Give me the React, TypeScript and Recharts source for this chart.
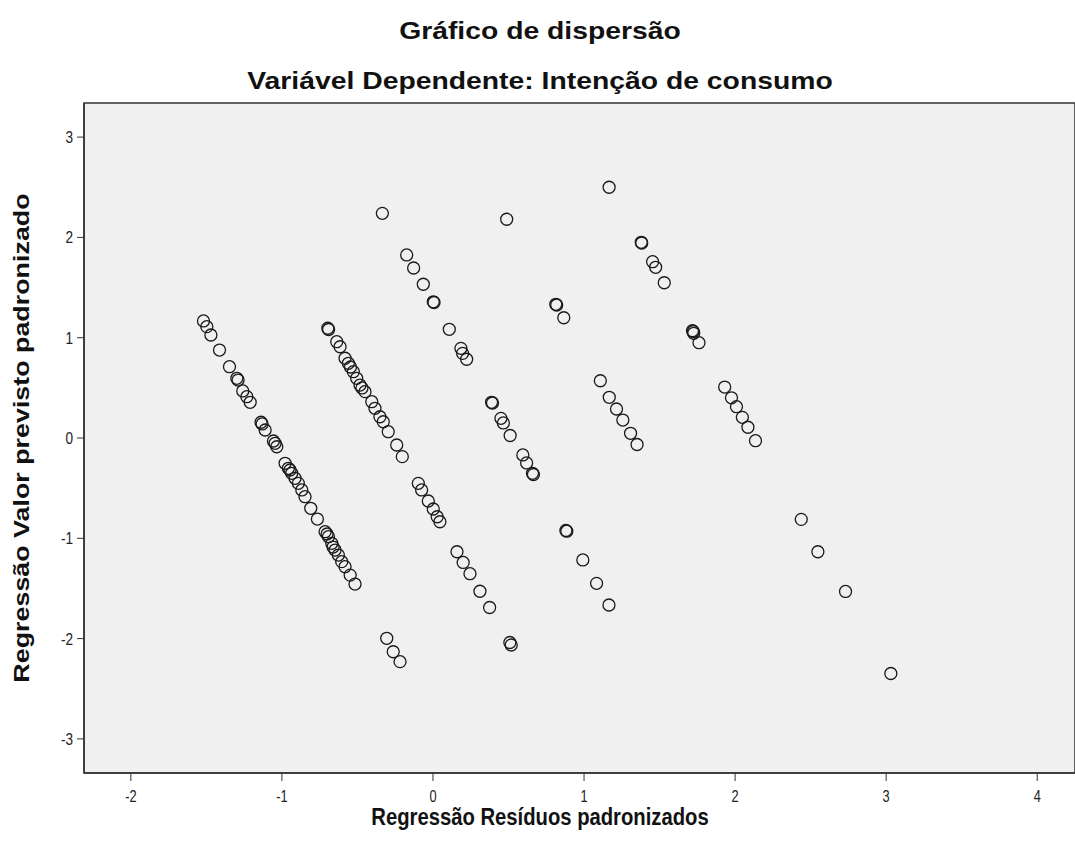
import React from "react";
import {
  ScatterChart,
  Scatter,
  XAxis,
  YAxis,
  CartesianGrid,
  ReferenceArea,
} from "recharts";

// x = standardized residual, y = standardized predicted value
const bandAResid = [
  -1.519, -1.497, -1.47, -1.413, -1.347, -1.298, -1.29, -1.259, -1.232, -1.21,
  -1.138, -1.131, -1.111, -1.056, -1.045, -1.034, -0.979, -0.957, -0.946, -0.935,
  -0.913, -0.891, -0.868, -0.847, -0.809, -0.765, -0.714, -0.701, -0.692, -0.67,
  -0.661, -0.648, -0.626, -0.604, -0.582, -0.548, -0.516, -0.306, -0.263, -0.218,
];
const bandAPred = [
  1.167, 1.11, 1.027, 0.877, 0.711, 0.595, 0.578, 0.469, 0.412, 0.356,
  0.157, 0.14, 0.08, -0.03, -0.053, -0.087, -0.252, -0.302, -0.319, -0.352,
  -0.402, -0.452, -0.518, -0.585, -0.701, -0.808, -0.934, -0.957, -0.984, -1.05,
  -1.087, -1.117, -1.167, -1.233, -1.283, -1.367, -1.456, -1.997, -2.131, -2.23,
];

const bandBResid = [
  -0.696, -0.691, -0.637, -0.615, -0.582, -0.56, -0.546, -0.527, -0.505, -0.483,
  -0.47, -0.45, -0.405, -0.384, -0.351, -0.329, -0.296, -0.24, -0.203,
  -0.097, -0.075, -0.031, 0.002, 0.028, 0.046, 0.159, 0.2, 0.245, 0.311, 0.375,
  0.509, 0.518,
];
const bandBPred = [
  1.094, 1.082, 0.96, 0.91, 0.795, 0.745, 0.708, 0.661, 0.595, 0.528,
  0.499, 0.462, 0.362, 0.296, 0.212, 0.162, 0.063, -0.07, -0.186,
  -0.452, -0.518, -0.628, -0.708, -0.785, -0.835, -1.134, -1.241, -1.353, -1.528, -1.69,
  -2.039, -2.064,
];

const bandCResid = [
  -0.335, -0.174, -0.128, -0.064, 0.002, 0.007, 0.108, 0.185, 0.196, 0.223,
  0.388, 0.394, 0.45, 0.466, 0.511, 0.595, 0.62, 0.659, 0.665,
  0.88, 0.886, 0.992, 1.083, 1.165,
];
const bandCPred = [
  2.24, 1.825, 1.695, 1.533, 1.358, 1.351, 1.084, 0.894, 0.844, 0.785,
  0.356, 0.349, 0.196, 0.15, 0.025, -0.169, -0.249, -0.352, -0.364,
  -0.922, -0.929, -1.216, -1.449, -1.665,
];

const bandDResid = [
  0.488, 0.813, 0.819, 0.866, 1.108, 1.167, 1.215, 1.257, 1.308, 1.351,
];
const bandDPred = [
  2.181, 1.333, 1.326, 1.199, 0.571, 0.406, 0.289, 0.179, 0.047, -0.065,
];

const bandEResid = [
  1.166, 1.379, 1.382, 1.454, 1.474, 1.531, 1.718, 1.723, 1.726, 1.761,
  1.931, 1.976, 2.009, 2.048, 2.085, 2.135, 2.438, 2.548, 2.731, 3.031,
];
const bandEPred = [
  2.5, 1.951, 1.944, 1.758, 1.702, 1.548, 1.07, 1.062, 1.044, 0.95,
  0.508, 0.401, 0.312, 0.206, 0.107, -0.027, -0.811, -1.134, -1.53, -2.348,
];

const xTicks = [-2, -1, 0, 1, 2, 3, 4];
const yTicks = [-3, -2, -1, 0, 1, 2, 3];

const xDomain: [number, number] = [-2.31, 4.25];
const yDomain: [number, number] = [-3.34, 3.34];

const toPoints = (xs: number[], ys: number[]) =>
  xs.map((x, i) => ({ x, y: ys[i] }));

const bands = [
  toPoints(bandAResid, bandAPred),
  toPoints(bandBResid, bandBPred),
  toPoints(bandCResid, bandCPred),
  toPoints(bandDResid, bandDPred),
  toPoints(bandEResid, bandEPred),
];

const font = "'Liberation Sans', Arial, sans-serif";

const OpenCircle = (props: any) => {
  const { cx, cy } = props;
  if (cx == null || cy == null) return null;
  return (
    <circle cx={cx} cy={cy} r={6} fill="none" stroke="#1a1a1a" strokeWidth={1.3} />
  );
};

// narrow-looking tick labels like the SPSS output
const XTick = (props: any) => {
  const { x, y, payload } = props;
  return (
    <text
      transform={`translate(${x},${y + 19}) scale(0.8,1)`}
      textAnchor="middle"
      fontSize={16}
      fontFamily={font}
      fill="#222"
    >
      {payload.value}
    </text>
  );
};

const YTick = (props: any) => {
  const { x, y, payload } = props;
  return (
    <text
      transform={`translate(${x - 2},${y + 6}) scale(0.8,1)`}
      textAnchor="end"
      fontSize={17}
      fontFamily={font}
      fill="#222"
    >
      {payload.value}
    </text>
  );
};

const titleStyle: React.CSSProperties = {
  position: "absolute",
  left: 0,
  width: 1080,
  textAlign: "center",
  fontFamily: font,
  fontWeight: "bold",
  fontSize: 24,
  color: "#111",
  transform: "scaleX(1.18)",
  transformOrigin: "540px 0",
};

export default function App() {
  return (
    <div
      style={{
        position: "absolute",
        left: 0,
        top: 0,
        width: 1075,
        height: 854,
        background: "#fff",
        overflow: "hidden",
      }}
    >
      <div style={{ ...titleStyle, top: 17 }}>Gráfico de dispersão</div>
      <div style={{ ...titleStyle, top: 67 }}>
        Variável Dependente: Intenção de consumo
      </div>

      <ScatterChart
        width={1075}
        height={854}
        margin={{ top: 103, right: 0, bottom: 41, left: 24 }}
      >
        <CartesianGrid
          fill="#f0f0f0"
          horizontal={false}
          vertical={false}
          stroke="none"
        />
        <ReferenceArea
          x1={xDomain[0]}
          x2={xDomain[1]}
          y1={yDomain[0]}
          y2={yDomain[1]}
          fill="none"
          fillOpacity={0}
          stroke="#333"
          strokeWidth={1.5}
          ifOverflow="visible"
        />
        <XAxis
          type="number"
          dataKey="x"
          domain={xDomain}
          ticks={xTicks}
          allowDataOverflow
          height={40}
          axisLine={{ stroke: "#333", strokeWidth: 1.5 }}
          tickLine={{ stroke: "#333" }}
          tickSize={8}
          tick={<XTick />}
        />
        <YAxis
          type="number"
          dataKey="y"
          domain={yDomain}
          ticks={yTicks}
          allowDataOverflow
          width={60}
          axisLine={{ stroke: "#333", strokeWidth: 1.5 }}
          tickLine={{ stroke: "#333" }}
          tickSize={7}
          tick={<YTick />}
        />
        {bands.map((band, i) => (
          <Scatter
            key={i}
            data={band}
            shape={OpenCircle}
            isAnimationActive={false}
          />
        ))}
      </ScatterChart>

      <div
        style={{
          position: "absolute",
          top: 806,
          left: 0,
          width: 1080,
          lineHeight: "22px",
          textAlign: "center",
          fontFamily: font,
          fontWeight: "bold",
          fontSize: 23,
          color: "#111",
          transform: "scaleX(0.88)",
          transformOrigin: "540px 0",
        }}
      >
        Regressão Resíduos padronizados
      </div>
      <div
        style={{
          position: "absolute",
          left: 22,
          top: 438,
          width: 600,
          marginLeft: -300,
          marginTop: -14,
          lineHeight: "28px",
          textAlign: "center",
          transform: "rotate(-90deg) scaleX(1.22)",
          fontFamily: font,
          fontWeight: "bold",
          fontSize: 22,
          color: "#111",
        }}
      >
        Regressão Valor previsto padronizado
      </div>
    </div>
  );
}
